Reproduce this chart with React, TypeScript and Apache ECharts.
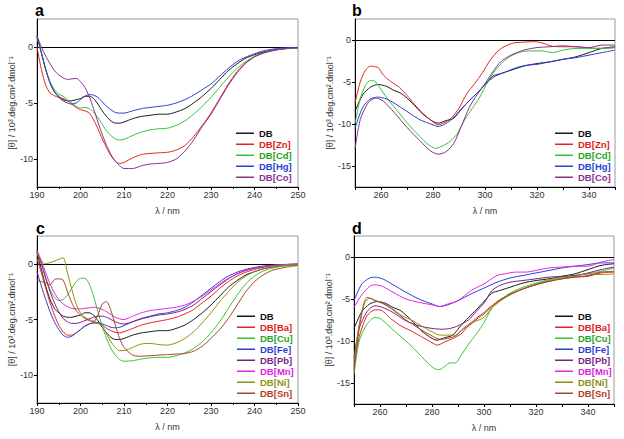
import React, { useEffect, useRef } from "react";
import * as echarts from "echarts";

// ---------- data ----------
const WL_A = [190,191,192,193,194,195,196,197,198,199,200,201,202,203,204,205,206,207,208,209,210,212,214,216,218,220,222,224,226,228,230,232,234,236,238,240,242,244,246,248,250];

// panel a
const A_DB = [1.0,-0.5,-2.0,-3.2,-4.0,-4.4,-4.7,-4.8,-4.8,-4.7,-4.6,-4.4,-4.4,-4.6,-5.1,-5.7,-6.2,-6.6,-6.8,-6.8,-6.7,-6.4,-6.2,-6.1,-6.0,-6.0,-5.8,-5.5,-5.0,-4.4,-3.7,-2.9,-2.1,-1.5,-1.0,-0.7,-0.45,-0.3,-0.2,-0.12,-0.08];
const A_ZN = [0.0,-2.0,-3.4,-4.1,-4.35,-4.5,-4.6,-4.8,-5.1,-5.4,-5.6,-5.7,-5.9,-6.5,-7.3,-8.2,-9.0,-9.7,-10.2,-10.4,-10.3,-9.9,-9.6,-9.5,-9.45,-9.4,-9.2,-8.8,-8.0,-7.0,-5.9,-4.6,-3.3,-2.2,-1.4,-0.85,-0.5,-0.3,-0.18,-0.1,-0.06];
const A_CD = [0.8,-0.5,-2.0,-3.1,-3.8,-4.2,-4.4,-4.7,-5.0,-5.3,-5.45,-5.4,-5.5,-5.8,-6.3,-6.9,-7.5,-7.9,-8.2,-8.3,-8.25,-7.9,-7.6,-7.4,-7.3,-7.25,-7.0,-6.6,-6.0,-5.3,-4.5,-3.6,-2.7,-1.9,-1.3,-0.85,-0.55,-0.35,-0.2,-0.12,-0.08];
const A_HG = [1.0,-0.5,-2.0,-3.2,-4.0,-4.5,-4.8,-5.0,-5.1,-5.0,-4.7,-4.4,-4.25,-4.3,-4.5,-4.9,-5.3,-5.6,-5.85,-5.9,-5.9,-5.7,-5.5,-5.4,-5.3,-5.2,-5.0,-4.7,-4.3,-3.8,-3.3,-2.6,-1.9,-1.3,-0.9,-0.6,-0.35,-0.2,-0.1,-0.05,-0.03];
const A_CO = [1.0,0.0,-0.8,-1.5,-2.1,-2.5,-2.75,-2.9,-2.85,-2.8,-3.1,-3.6,-4.4,-5.5,-6.7,-7.8,-8.8,-9.6,-10.2,-10.6,-10.85,-10.85,-10.6,-10.45,-10.4,-10.3,-10.0,-9.3,-8.3,-7.1,-6.0,-4.7,-3.4,-2.3,-1.45,-0.9,-0.55,-0.35,-0.2,-0.12,-0.08];

// panel c
const C_BA = [0.5,-0.8,-2.2,-3.5,-4.6,-5.5,-6.1,-6.4,-6.4,-6.2,-5.9,-5.6,-5.4,-5.3,-5.35,-5.5,-5.8,-6.0,-6.15,-6.2,-6.1,-5.8,-5.5,-5.3,-5.15,-5.0,-4.8,-4.5,-4.1,-3.5,-2.9,-2.2,-1.6,-1.1,-0.75,-0.5,-0.32,-0.2,-0.12,-0.07,-0.04];
const C_CU = [1.0,0.0,-1.2,-2.3,-3.0,-3.3,-3.2,-2.8,-2.2,-1.6,-1.3,-1.3,-1.8,-2.9,-4.3,-5.6,-6.7,-7.6,-8.2,-8.6,-8.75,-8.7,-8.55,-8.45,-8.4,-8.4,-8.25,-8.0,-7.6,-7.0,-6.2,-5.2,-4.0,-2.8,-1.8,-1.1,-0.65,-0.4,-0.25,-0.15,-0.1];
const C_FE = [-0.7,-2.0,-3.2,-4.3,-5.2,-5.9,-6.4,-6.6,-6.5,-6.2,-5.9,-5.6,-5.4,-5.3,-5.3,-5.4,-5.55,-5.7,-5.75,-5.7,-5.55,-5.2,-4.9,-4.7,-4.5,-4.4,-4.2,-3.9,-3.4,-2.8,-2.2,-1.6,-1.1,-0.75,-0.5,-0.32,-0.2,-0.12,-0.07,-0.04,-0.02];
const C_PB = [1.2,0.0,-1.3,-2.5,-3.5,-4.3,-4.9,-5.2,-5.35,-5.35,-5.25,-5.1,-4.95,-4.8,-4.7,-4.7,-4.8,-5.0,-5.2,-5.35,-5.4,-5.2,-4.95,-4.75,-4.6,-4.5,-4.35,-4.1,-3.7,-3.1,-2.5,-1.9,-1.35,-0.9,-0.6,-0.4,-0.25,-0.15,-0.09,-0.05,-0.03];
const C_MN = [1.2,0.3,-0.8,-1.8,-2.6,-3.2,-3.6,-3.85,-4.0,-4.05,-4.05,-4.0,-3.95,-3.9,-3.95,-4.1,-4.3,-4.55,-4.8,-4.95,-5.0,-4.7,-4.4,-4.2,-4.1,-4.0,-3.9,-3.7,-3.35,-2.9,-2.35,-1.8,-1.3,-0.9,-0.6,-0.4,-0.25,-0.15,-0.09,-0.05,-0.03];
const C_NI = [1.0,0.3,0.0,0.12,0.25,0.4,0.55,-0.8,-2.3,-3.6,-4.4,-4.8,-5.0,-5.15,-5.3,-5.6,-6.3,-7.0,-7.5,-7.8,-7.8,-7.5,-7.2,-7.15,-7.25,-7.3,-7.1,-6.7,-6.1,-5.3,-4.4,-3.4,-2.5,-1.7,-1.1,-0.7,-0.45,-0.28,-0.17,-0.1,-0.06];
const C_SN = [-1.5,-1.6,-1.7,-1.9,-1.4,-1.35,-1.45,-2.5,-3.5,-4.2,-4.6,-4.9,-5.1,-5.2,-4.6,-3.6,-3.4,-4.2,-5.5,-6.7,-7.5,-8.2,-8.3,-8.25,-8.2,-8.15,-8.1,-8.05,-7.85,-7.4,-6.7,-5.9,-4.9,-3.7,-2.5,-1.6,-1.0,-0.6,-0.4,-0.25,-0.15];

// panel b ([wavelength, value])
const B_DB = [[250,-8.5],[253,-6.5],[256,-5.6],[259,-5.3],[262,-5.5],[265,-6.0],[268,-6.4],[272,-7.5],[276,-8.8],[280,-9.7],[282,-9.9],[285,-9.6],[288,-9.3],[291,-8.2],[294,-7.2],[297,-6.3],[300,-5.3],[303,-4.3],[306,-4.0],[310,-3.6],[315,-3.1],[320,-2.8],[325,-2.6],[330,-2.3],[335,-2.0],[340,-1.5],[345,-1.0],[350,-0.8]];
const B_ZN = [[250,-7.5],[252,-5.0],[254,-3.6],[256,-3.1],[258,-3.2],[259,-3.3],[261,-4.2],[264,-5.0],[267,-5.6],[270,-6.6],[273,-7.7],[276,-8.7],[279,-9.5],[282,-10.1],[284,-9.9],[287,-9.3],[290,-8.1],[293,-6.4],[296,-5.2],[299,-3.9],[302,-2.4],[305,-1.3],[308,-0.7],[311,-0.35],[315,-0.25],[319,-0.2],[322,-0.35],[326,-0.75],[330,-0.8],[335,-0.8],[340,-0.95],[345,-1.0],[350,-0.9]];
const B_CD = [[250,-10],[252,-7.0],[254,-5.4],[256,-4.8],[258,-5.0],[260,-5.9],[263,-7.2],[267,-8.7],[271,-10.2],[275,-11.5],[278,-12.4],[281,-12.9],[283,-12.7],[286,-12.2],[289,-11.3],[292,-9.6],[295,-8.2],[298,-6.8],[301,-5.0],[304,-3.6],[307,-2.6],[310,-1.9],[314,-1.4],[318,-1.3],[322,-1.3],[326,-1.5],[330,-1.2],[335,-1.0],[340,-1.0],[345,-1.0],[350,-0.9]];
const B_HG = [[250,-10.5],[253,-8.0],[256,-7.0],[259,-6.8],[262,-7.0],[265,-7.5],[270,-8.5],[275,-9.5],[280,-10.1],[282,-10.3],[284,-10.1],[287,-9.5],[290,-8.5],[294,-7.2],[298,-6.0],[301,-5.0],[304,-4.3],[308,-3.8],[312,-3.3],[316,-3.0],[320,-2.9],[325,-2.6],[330,-2.3],[335,-2.1],[340,-1.8],[345,-1.5],[350,-1.2]];
const B_CO = [[250,-13],[252,-9.5],[255,-7.5],[258,-6.9],[261,-7.3],[265,-8.6],[270,-10.4],[275,-12.0],[279,-13.2],[282,-13.6],[285,-13.3],[288,-12.3],[291,-10.2],[294,-8.0],[297,-6.5],[300,-5.2],[303,-3.8],[306,-2.6],[310,-1.8],[315,-1.2],[320,-0.9],[325,-0.8],[330,-0.7],[335,-0.8],[340,-0.9],[345,-0.6],[350,-0.6]];

// panel d
const D_BA = [[250,-13],[252,-9.5],[255,-7.0],[258,-6.3],[260,-6.3],[264,-7.3],[268,-8.2],[272,-8.8],[276,-9.5],[280,-10.2],[282,-10.5],[285,-10.1],[288,-9.7],[291,-9.2],[294,-8.2],[297,-7.3],[300,-6.6],[303,-5.8],[306,-5.1],[310,-4.4],[315,-3.8],[320,-3.3],[325,-2.9],[330,-2.6],[335,-2.4],[340,-2.3],[345,-1.9],[350,-1.8]];
const D_CU = [[250,-14],[252,-10],[255,-8.0],[258,-7.2],[260,-7.3],[263,-8.1],[267,-9.2],[270,-10.0],[274,-11.2],[278,-12.5],[281,-13.3],[283,-13.4],[285,-13.0],[287,-12.6],[289,-12.6],[291,-11.8],[294,-10.4],[297,-9.2],[300,-7.8],[303,-6.1],[306,-5.2],[310,-4.3],[315,-3.6],[320,-3.1],[325,-2.7],[330,-2.4],[335,-2.2],[340,-2.0],[345,-1.7],[350,-1.3]];
const D_FE = [[250,-5.2],[253,-3.2],[256,-2.5],[258,-2.4],[261,-2.6],[265,-3.3],[270,-4.2],[275,-5.0],[280,-5.6],[283,-5.9],[286,-5.7],[290,-5.2],[295,-4.4],[300,-3.7],[305,-3.0],[310,-2.5],[315,-2.2],[320,-1.9],[325,-1.6],[330,-1.3],[335,-1.1],[340,-0.9],[345,-0.7],[350,-0.7]];
const D_PB = [[250,-12],[252,-8.5],[255,-6.5],[258,-5.8],[261,-6.0],[265,-6.6],[270,-7.6],[275,-8.2],[280,-8.5],[284,-8.6],[287,-8.5],[290,-8.2],[294,-7.5],[297,-6.5],[300,-5.5],[303,-4.0],[306,-3.4],[310,-3.0],[315,-2.8],[320,-2.6],[325,-2.4],[330,-2.3],[335,-2.2],[340,-1.9],[345,-1.5],[350,-1.2]];
const D_MN = [[250,-6.0],[253,-4.5],[256,-3.5],[258,-3.3],[261,-3.5],[265,-4.2],[270,-5.0],[275,-5.4],[280,-5.7],[283,-5.9],[286,-5.6],[290,-5.2],[295,-4.0],[300,-3.2],[305,-2.2],[308,-2.0],[312,-1.8],[316,-1.8],[320,-1.6],[325,-1.3],[330,-1.2],[335,-1.1],[340,-1.1],[345,-0.6],[350,-0.3]];
const D_NI = [[250,-12.5],[252,-8.0],[254,-5.3],[255,-4.8],[257,-5.0],[260,-5.4],[264,-6.0],[268,-6.9],[272,-7.5],[276,-8.2],[280,-8.9],[283,-9.3],[286,-9.3],[289,-9.3],[292,-8.5],[295,-7.8],[298,-7.5],[300,-7.2],[303,-6.1],[306,-5.3],[310,-4.5],[315,-3.8],[320,-3.2],[325,-2.8],[330,-2.5],[335,-2.3],[340,-2.0],[345,-2.1],[350,-2.0]];
const D_SN = [[250,-13.5],[252,-8.5],[254,-5.5],[256,-4.9],[258,-5.2],[261,-5.5],[265,-6.3],[270,-7.5],[275,-8.5],[280,-9.4],[283,-9.8],[286,-9.7],[289,-9.4],[292,-8.6],[295,-8.0],[298,-7.2],[300,-6.8],[303,-5.9],[306,-5.2],[310,-4.5],[315,-3.8],[320,-3.3],[325,-2.9],[330,-2.6],[335,-2.4],[340,-2.2],[345,-1.8],[350,-1.7]];

const TICKS_UV = [-10, -5, 0];
const TICKS_NUV = [-15, -10, -5, 0];
const LABELS_X_NUV = [260, 280, 300, 320, 340];
const TICKS_X_NUV = [250, 260, 270, 280, 290, 300, 310, 320, 330, 340, 350];

const NAMES_AB = ["DB", "DB[Zn]", "DB[Cd]", "DB[Hg]", "DB[Co]"];
const NAMES_CD = ["DB", "DB[Ba]", "DB[Cu]", "DB[Fe]", "DB[Pb]", "DB[Mn]", "DB[Ni]", "DB[Sn]"];

// ---------- styles ----------
const COL: Record<string, string> = {
  "DB": "#1a1a1a",
  "DB[Zn]": "#e3261f",
  "DB[Cd]": "#35c435",
  "DB[Hg]": "#2b3fd4",
  "DB[Co]": "#8e2e90",
  "DB[Ba]": "#e3261f",
  "DB[Cu]": "#35c435",
  "DB[Fe]": "#2b3fd4",
  "DB[Pb]": "#7c1f88",
  "DB[Mn]": "#e425e4",
  "DB[Ni]": "#8f8f10",
  "DB[Sn]": "#a4472b",
};
const TXT: Record<string, string> = {
  "DB": "#111111",
  "DB[Zn]": "#e0201c",
  "DB[Cd]": "#1fa51f",
  "DB[Hg]": "#2b3fd4",
  "DB[Co]": "#8e2e90",
  "DB[Ba]": "#e0201c",
  "DB[Cu]": "#1fa51f",
  "DB[Fe]": "#2b3fd4",
  "DB[Pb]": "#7c1f88",
  "DB[Mn]": "#e020e0",
  "DB[Ni]": "#8f8f10",
  "DB[Sn]": "#b0401a",
};

const FONT = "'Liberation Sans', Arial, sans-serif";
const YNAME = "[θ] / 10³.deg.cm².dmol⁻¹";

const GRIDS = [
  { left: 37, top: 19, width: 261, height: 168 },
  { left: 355, top: 19, width: 260, height: 168 },
  { left: 37, top: 236, width: 261, height: 167 },
  { left: 354, top: 236, width: 260, height: 168 },
];

export default function App() {
  const ref = useRef<HTMLDivElement>(null);
  useEffect(() => {
    if (!ref.current) return;
    const chart = echarts.init(ref.current, undefined, { renderer: "svg" });

    const pairA = (arr: number[]) => WL_A.map((x, i) => [x, arr[i]]);

    const line = (name: string, data: number[][], idx: number, zero = false) => {
      const s: any = {
        type: "line",
        name,
        data,
        xAxisIndex: idx,
        yAxisIndex: idx,
        symbol: "none",
        smooth: 0.25,
        lineStyle: { color: COL[name], width: 1 },
        itemStyle: { color: COL[name], borderWidth: 0 },
        emphasis: { disabled: true },
        z: 3,
      };
      if (zero) {
        s.markLine = {
          silent: true,
          symbol: "none",
          label: { show: false },
          lineStyle: { color: "#000", width: 1, type: "solid" },
          data: [{ yAxis: 0 }],
          z: 2,
        };
      }
      return s;
    };

    const series = [
      line("DB", pairA(A_DB), 0, true),
      line("DB[Zn]", pairA(A_ZN), 0),
      line("DB[Cd]", pairA(A_CD), 0),
      line("DB[Hg]", pairA(A_HG), 0),
      line("DB[Co]", pairA(A_CO), 0),

      line("DB", B_DB, 1, true),
      line("DB[Zn]", B_ZN, 1),
      line("DB[Cd]", B_CD, 1),
      line("DB[Hg]", B_HG, 1),
      line("DB[Co]", B_CO, 1),

      line("DB", pairA(A_DB), 2, true),
      line("DB[Ba]", pairA(C_BA), 2),
      line("DB[Cu]", pairA(C_CU), 2),
      line("DB[Fe]", pairA(C_FE), 2),
      line("DB[Pb]", pairA(C_PB), 2),
      line("DB[Mn]", pairA(C_MN), 2),
      line("DB[Ni]", pairA(C_NI), 2),
      line("DB[Sn]", pairA(C_SN), 2),

      line("DB", B_DB, 3, true),
      line("DB[Ba]", D_BA, 3),
      line("DB[Cu]", D_CU, 3),
      line("DB[Fe]", D_FE, 3),
      line("DB[Pb]", D_PB, 3),
      line("DB[Mn]", D_MN, 3),
      line("DB[Ni]", D_NI, 3),
      line("DB[Sn]", D_SN, 3),
    ];

    const axisCommon = {
      axisLine: { show: true, onZero: false, lineStyle: { color: "#000", width: 1 } },
      splitLine: { show: false },
      nameTextStyle: { fontFamily: FONT, fontSize: 9, color: "#333" },
    };

    const xAxis = GRIDS.map((_, i) => {
      const uv = i === 0 || i === 2;
      return {
        ...axisCommon,
        type: "value",
        gridIndex: i,
        min: uv ? 190 : 250,
        max: uv ? 250 : 350,
        ...(uv ? { interval: 10 } : {}),
        name: "λ / nm",
        nameLocation: "middle",
        nameGap: 19,
        axisTick: uv
          ? { show: true, inside: false, length: 3, lineStyle: { color: "#000" } }
          : { show: true, inside: false, length: 3, lineStyle: { color: "#000" }, customValues: TICKS_X_NUV },
        minorTick: uv ? { show: true, splitNumber: 2, length: 2, lineStyle: { color: "#000" } } : { show: false },
        axisLabel: uv
          ? { fontFamily: FONT, fontSize: 9, color: "#333", margin: 3 }
          : { fontFamily: FONT, fontSize: 9, color: "#333", margin: 3, customValues: LABELS_X_NUV },
      };
    });

    const yAxis = GRIDS.map((_, i) => {
      const uv = i === 0 || i === 2;
      const ticks = uv ? TICKS_UV : TICKS_NUV;
      return {
        ...axisCommon,
        type: "value",
        gridIndex: i,
        min: uv ? -12.5 : -17.5,
        max: 2.5,
        name: YNAME,
        nameLocation: "middle",
        nameGap: 19,
        axisTick: { show: true, inside: false, length: 3, lineStyle: { color: "#000" }, customValues: ticks },
        axisLabel: { fontFamily: FONT, fontSize: 9, color: "#333", margin: 4, customValues: ticks },
      };
    });

    const legendPos = [
      { left: 236, top: 128, names: NAMES_AB },
      { left: 555, top: 128, names: NAMES_AB },
      { left: 237, top: 311, names: NAMES_CD },
      { left: 555, top: 311, names: NAMES_CD },
    ];
    const legend = legendPos.map((p) => ({
      show: true,
      orient: "vertical",
      left: p.left,
      top: p.top,
      padding: 0,
      itemGap: 0.5,
      itemWidth: 18,
      itemHeight: 1.5,
      itemTextGap: 4,
      icon: "rect",
      selectedMode: false,
      itemStyle: { borderWidth: 0 },
      textStyle: { fontFamily: FONT, fontSize: 9.5, fontWeight: "bold", lineHeight: 10.5 },
      data: p.names.map((n) => ({ name: n, textStyle: { color: TXT[n] } })),
    }));

    const letters = [
      { t: "a", x: 35, y: 2 },
      { t: "b", x: 352, y: 2 },
      { t: "c", x: 36, y: 220 },
      { t: "d", x: 352, y: 220 },
    ];

    chart.setOption({
      animation: false,
      backgroundColor: "#fff",
      grid: GRIDS.map((g) => ({ ...g, show: true, borderColor: "#9a9a9a", borderWidth: 1, backgroundColor: "transparent" })),
      xAxis,
      yAxis,
      legend,
      series,
      graphic: letters.map((l) => ({
        type: "text",
        left: l.x,
        top: l.y,
        style: { text: l.t, font: `bold 16px ${FONT}`, fill: "#000" },
      })),
    });

    return () => chart.dispose();
  }, []);

  return (
    <div
      ref={ref}
      style={{ position: "absolute", left: 0, top: 0, width: 624, height: 439, background: "#fff" }}
    />
  );
}
